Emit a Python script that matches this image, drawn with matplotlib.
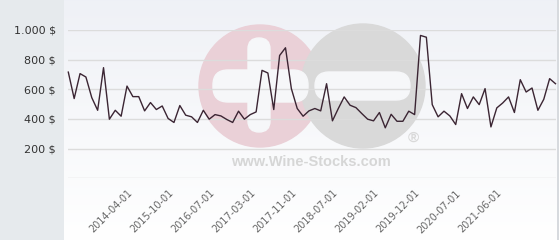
import numpy as np
import matplotlib
matplotlib.use("Agg")
import matplotlib.pyplot as plt
from matplotlib.patches import Circle, FancyBboxPatch, Rectangle

# monthly-ish prices
prices = [715, 537, 705, 682, 543, 458, 745, 398, 458, 418,
          621, 550, 550, 454, 510, 463, 487, 403, 376, 490,
          425, 414, 376, 458, 398, 429, 420, 396, 376, 452,
          398, 429, 447, 727, 709, 463, 827, 879, 604, 470,
          418, 454, 470, 454, 637, 387, 470, 548, 492, 476,
          436, 398, 387, 443, 340, 431, 384, 384, 452, 429,
          962, 950, 496, 414, 452, 420, 362, 570, 470, 548,
          496, 604, 346, 474, 507, 548, 443, 664, 581, 608,
          458, 532, 671, 637]
date_labels = ["2014-04-01", "2015-10-01", "2016-07-01", "2017-03-01",
               "2017-11-01", "2018-07-01", "2019-02-01", "2019-12-01",
               "2020-07-01", "2021-06-01"]
first_label, label_step = 10, 7
y_ticks = [200, 400, 600, 800, 1000]
y_labels = ["200 $", "400 $", "600 $", "800 $", "1.000 $"]
grid_vals = [0, 200, 400, 600, 800, 1000]

W, H = 560, 240
fig = plt.figure(figsize=(W / 100, H / 100), dpi=100)
fig.patch.set_facecolor("white")

# left grey strip
fig.add_artist(Rectangle((0, 0), 63 / W, 1, transform=fig.transFigure,
                         color="#e6eaed", zorder=0))

# gradient panel behind the plot
bg = fig.add_axes([64 / W, 0, (557 - 64) / W, 1], zorder=0)
grad = np.linspace(0, 1, 256).reshape(-1, 1)
top = np.array([0.937, 0.945, 0.965])
bot = np.array([1.0, 1.0, 1.0])
img = top + (bot - top) * grad[:, :, None]
bg.imshow(img, aspect="auto", extent=[0, 1, 0, 1], origin="upper")
bg.set_xlim(0, 1)
bg.set_ylim(0, 1)
bg.axis("off")
fig.add_artist(plt.Line2D([557.5 / W, 557.5 / W], [0, 1], transform=fig.transFigure,
                          color="#cfd3d8", lw=1.2, zorder=1))

# watermark, in pixels from the top-left corner -> inches
def px(x, y):
    return (x / 100, (H - y) / 100)

tr = fig.dpi_scale_trans
hole = "#f6f7f9"
wm = [
    Circle(px(260, 86), 0.61, transform=tr, color="#ead0d7"),
    Circle(px(363, 86), 0.62, transform=tr, color="#d9d9d9"),
    FancyBboxPatch(px(248, 132), 0.22, 0.94, transform=tr,
                   boxstyle="round,pad=0,rounding_size=0.11", color=hole),
    FancyBboxPatch(px(213, 102), 0.95, 0.32, transform=tr,
                   boxstyle="round,pad=0,rounding_size=0.15", color=hole),
    FancyBboxPatch(px(315, 100), 0.95, 0.28, transform=tr,
                   boxstyle="round,pad=0,rounding_size=0.14", color=hole),
]
for p in wm:
    p.set_zorder(1)
    fig.add_artist(p)
fig.text(311 / W, 1 - 162 / H, "www.Wine-Stocks.com", family="Liberation Sans",
         weight="bold", fontsize=10.5, color="#d6d6d6", ha="center", va="center", zorder=1)
fig.text(413 / W, 1 - 138 / H, "\u00ae", family="Liberation Sans", weight="bold",
         fontsize=11, color="#d9d9d9", ha="center", va="center", zorder=1)

ax = fig.add_axes([68.3 / W, (H - 178.3) / H, (555.5 - 68.3) / W, (178.3 - 29.8) / H], zorder=2)
ax.patch.set_alpha(0)
x = np.arange(len(prices))
for g in grid_vals:
    ax.axhline(g, color="#dcdcdc", lw=1, zorder=1)
ax.plot(x, prices, color="#3b2533", lw=1, zorder=3, clip_on=False)
ax.set_xlim(0, len(prices) - 1)
ax.set_ylim(0, 1000)

ax.set_yticks(y_ticks)
ax.set_yticklabels(y_labels, fontsize=8, color="#333333")
ax.tick_params(axis="y", length=0, pad=9)

tick_pos = np.arange(first_label, first_label + label_step * len(date_labels), label_step)
ax.set_xticks(tick_pos)
ax.set_xticklabels(date_labels, fontsize=7, color="#666666", rotation=45,
                   ha="right", rotation_mode="anchor")
ax.tick_params(axis="x", length=0, pad=7)
for s in ax.spines.values():
    s.set_visible(False)

fig.savefig("out.png", dpi=100)
